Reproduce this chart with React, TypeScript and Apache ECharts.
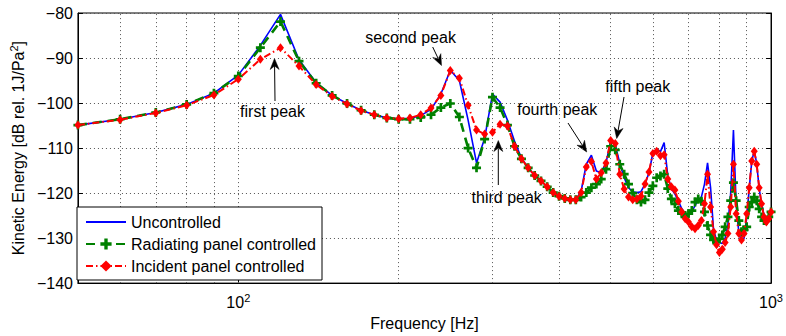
import React, { useEffect, useRef } from 'react';
import * as echarts from 'echarts';

// Frequency [Hz]
const frequencies = [
  50, 60, 70, 80, 90, 100, 110, 120, 130, 140, 150, 160, 170, 180, 190, 200,
  210, 220, 230, 240, 250, 260, 270, 280, 290, 300, 310, 320, 330, 340, 350,
  360, 370, 380, 390, 400, 410, 420, 430, 440, 450, 460, 470, 480, 490, 500,
  510, 520, 530, 540, 550, 560, 570, 580, 590, 600, 610, 620, 630, 640, 650,
  660, 670, 680, 690, 700, 710, 720, 730, 740, 750, 760, 770, 780, 790, 800,
  810, 820, 830, 840, 850, 860, 870, 880, 890, 900, 910, 920, 930, 940, 950,
  960, 970, 980, 990, 1000,
];

const uncontrolled = [
  -104.9, -103.6, -102.1, -100.3, -97.8, -93.8,
  -87.2, -80.3, -90.4, -95.5, -98.3,
  -100.1, -101.6, -102.6, -103.3, -103.5,
  -103.4, -102.8, -101.4, -98.0, -92.7,
  -95.0, -103.8, -113.3, -107.8, -98.0,
  -99.8, -103.8, -108.5, -112.2, -114.4,
  -116.1, -117.3, -118.6, -119.9, -120.7,
  -121.2, -121.5, -121.5, -119.6, -113.6,
  -111.6, -115.1, -115.5, -113.3, -108.5,
  -109.3, -113.3, -116.6, -118.8, -119.7,
  -119.9, -119.7, -118.0, -115.5, -111.1,
  -110.2, -110.8, -108.8, -116.2, -119.0,
  -120.2, -121.8, -123.5, -124.6, -124.8,
  -124.2, -122.8, -121.5, -120.9, -118.0,
  -113.3, -118.8, -128.2, -130.4, -131.0,
  -131.2, -130.0, -127.0, -120.0, -106.0,
  -122.5, -128.8, -130.8, -130.0, -125.5,
  -119.0, -113.0, -110.5, -113.5, -119.0,
  -122.5, -124.8, -126.2, -125.8, -124.2,
];

const radiatingControlled = [
  -104.9, -103.6, -102.1, -100.3, -97.8, -94.0,
  -87.7, -81.9, -90.7, -95.6, -98.3,
  -100.1, -101.6, -102.6, -103.3, -103.6,
  -103.6, -103.2, -102.6, -101.0, -100.1,
  -103.1, -110.0, -114.4, -108.0, -98.7,
  -101.0, -104.9, -109.6, -112.4, -114.4,
  -116.1, -117.3, -118.6, -119.9, -120.7,
  -121.2, -121.5, -121.5, -120.9, -119.9,
  -118.8, -118.0, -116.9, -114.7, -109.6,
  -110.4, -113.6, -115.8, -118.0, -120.0,
  -121.5, -122.0, -121.5, -119.9, -118.4,
  -116.6, -116.2, -115.8, -119.0, -121.3,
  -122.4, -123.9, -124.6, -125.0, -124.6,
  -123.9, -122.0, -121.3, -121.8, -124.2,
  -127.2, -129.3, -130.4, -130.8, -130.2,
  -129.3, -127.5, -125.3, -121.7, -117.7,
  -121.7, -126.1, -128.6, -128.2, -127.5,
  -123.1, -122.0, -120.9, -121.7, -123.5,
  -125.3, -126.1, -126.1, -125.3, -124.2,
];

const incidentControlled = [
  -104.9, -103.7, -102.2, -100.5, -98.2, -94.7,
  -90.3, -87.7, -91.8, -95.9, -98.5,
  -100.2, -101.7, -102.6, -103.3, -103.5,
  -103.3, -102.6, -101.1, -98.3, -92.8,
  -94.5, -100.5, -106.0, -106.9, -106.5,
  -104.7, -105.1, -109.6, -112.4, -114.4,
  -116.1, -117.3, -118.6, -119.9, -120.7,
  -121.2, -121.5, -121.5, -119.9, -114.2,
  -113.0, -116.9, -115.5, -113.3, -108.3,
  -109.0, -115.8, -119.1, -120.9, -121.5,
  -121.3, -120.7, -118.0, -115.3, -111.2,
  -110.7, -111.7, -111.5, -116.9, -118.6,
  -119.3, -121.8, -124.2, -125.7, -126.4,
  -127.5, -127.9, -127.2, -126.1, -122.4,
  -115.8, -123.1, -128.6, -131.5, -133.2,
  -132.5, -131.0, -129.0, -123.1, -113.6,
  -124.6, -129.0, -130.4, -129.0, -124.6,
  -118.8, -112.9, -110.7, -113.6, -118.8,
  -122.4, -125.3, -126.4, -125.7, -124.2,
];

const seriesNames = ['Uncontrolled', 'Radiating panel controlled', 'Incident panel controlled'];
const xGridFrequencies = [60, 70, 80, 90, 100, 200, 300, 400, 500, 600, 700, 800, 900];
const yMin = -140;
const yMax = -80;
const yStep = 10;

const annotationTexts = ['first peak', 'second peak', 'third peak', 'fourth peak', 'fifth peak'];

const FONT = '"Liberation Sans", Arial, Helvetica, sans-serif';

function arrowElements(x1: number, y1: number, x2: number, y2: number) {
  const dx = x2 - x1;
  const dy = y2 - y1;
  const len = Math.sqrt(dx * dx + dy * dy);
  const ux = dx / len;
  const uy = dy / len;
  const px = -uy;
  const py = ux;
  const headLen = 11;
  const halfW = 4.5;
  const notch = 3.5;
  const bx = x2 - ux * headLen;
  const by = y2 - uy * headLen;
  const nx = x2 - ux * (headLen - notch);
  const ny = y2 - uy * (headLen - notch);
  return [
    {
      type: 'line',
      shape: { x1, y1, x2: nx, y2: ny },
      style: { stroke: '#000', lineWidth: 1 },
      silent: true,
    },
    {
      type: 'polygon',
      shape: {
        points: [
          [x2, y2],
          [bx + px * halfW, by + py * halfW],
          [nx, ny],
          [bx - px * halfW, by - py * halfW],
        ],
      },
      style: { fill: '#000', stroke: '#000', lineWidth: 0.5 },
      silent: true,
    },
  ];
}

function textElement(text: string, x: number, y: number) {
  return {
    type: 'text',
    x,
    y,
    silent: true,
    style: {
      text,
      fill: '#000',
      font: `16px ${FONT}`,
      align: 'center',
      verticalAlign: 'middle',
      textAlign: 'center',
      textVerticalAlign: 'middle',
    },
  };
}

export default function App() {
  const ref = useRef<HTMLDivElement>(null);

  useEffect(() => {
    document.body.style.margin = '0';
    const chart = echarts.init(ref.current!, null, { renderer: 'svg' });

    const gridStyle = { color: '#555', width: 1, type: [1, 3] as any };

    const option: any = {
      animation: false,
      backgroundColor: '#fff',
      textStyle: { fontFamily: FONT, color: '#000' },
      grid: {
        left: 71,
        right: 12,
        top: 13,
        bottom: 49,
        show: true,
        borderColor: '#000',
        borderWidth: 1,
        backgroundColor: 'transparent',
      },
      xAxis: {
        type: 'log',
        logBase: 10,
        min: 50,
        max: 1000,
        name: 'Frequency [Hz]',
        nameLocation: 'middle',
        nameGap: 31,
        nameTextStyle: { fontSize: 16, color: '#000', fontFamily: FONT },
        axisLine: { show: true, lineStyle: { color: '#000', width: 1 } },
        axisTick: { show: true, inside: true, length: 5, lineStyle: { color: '#000' } },
        splitLine: { show: false },
        axisLabel: {
          margin: 9,
          color: '#000',
          fontSize: 16,
          fontFamily: FONT,
          showMinLabel: true,
          showMaxLabel: true,
          formatter: (v: number) => {
            const e = Math.round(Math.log10(v) * 1000) / 1000;
            if (Math.abs(e - Math.round(e)) < 1e-6) {
              return `10{sup|${Math.round(e)}}`;
            }
            return '';
          },
          rich: {
            sup: { fontSize: 11, fontFamily: FONT, color: '#000', padding: [0, 0, 9, 0] },
          },
        },
      },
      yAxis: [
        {
          type: 'value',
          min: yMin,
          max: yMax,
          interval: yStep,
          name: 'Kinetic Energy [dB rel. 1J/Pa{sup|2}]',
          nameLocation: 'middle',
          nameGap: 45,
          nameRotate: 90,
          nameTextStyle: {
            fontSize: 16,
            color: '#000',
            fontFamily: FONT,
            rich: { sup: { fontSize: 11, fontFamily: FONT, color: '#000', padding: [0, 0, 9, 0] } },
          },
          axisLine: { show: true, lineStyle: { color: '#000', width: 1 } },
          axisTick: { show: true, inside: true, length: 5, lineStyle: { color: '#000' } },
          splitLine: { show: true, lineStyle: gridStyle },
          axisLabel: {
            margin: 5,
            color: '#000',
            fontSize: 16,
            fontFamily: FONT,
            formatter: (v: number) => (v < 0 ? '\u2212' + Math.abs(v) : String(v)),
          },
        },
        {
          type: 'value',
          position: 'right',
          min: yMin,
          max: yMax,
          interval: yStep,
          axisLine: { show: true, lineStyle: { color: '#000', width: 1 } },
          axisTick: { show: true, inside: true, length: 5, lineStyle: { color: '#000' } },
          splitLine: { show: false },
          axisLabel: { show: false },
        },
      ],
      legend: {
        orient: 'vertical',
        left: 77,
        top: 207,
        data: [
          { name: seriesNames[0], itemStyle: { opacity: 0 } },
          { name: seriesNames[1] },
          { name: seriesNames[2] },
        ],
        itemWidth: 40,
        itemHeight: 14,
        itemGap: 6,
        padding: [7, 6, 6, 8],
        backgroundColor: '#fff',
        borderColor: '#000',
        borderWidth: 1,
        borderRadius: 0,
        textStyle: { fontSize: 16, color: '#000', fontFamily: FONT },
        selectedMode: false,
      },
      series: [
        {
          name: seriesNames[0],
          type: 'line',
          data: frequencies.map((f, i) => [f, uncontrolled[i]]),
          symbol: 'none',
          lineStyle: { color: '#0000ff', width: 1.6 },
          itemStyle: { color: '#0000ff' },
          z: 2,
          markLine: {
            silent: true,
            z: 1,
            symbol: ['none', 'none'],
            label: { show: false },
            lineStyle: gridStyle,
            emphasis: { disabled: true },
            data: xGridFrequencies.map((f) => ({ xAxis: f })),
          },
        },
        {
          name: seriesNames[1],
          type: 'line',
          data: frequencies.map((f, i) => [f, radiatingControlled[i]]),
          symbol: 'path://M3.5,0H6.5V3.5H10V6.5H6.5V10H3.5V6.5H0V3.5H3.5Z',
          symbolSize: 9,
          lineStyle: { color: '#008000', width: 2.6, type: [9, 6] },
          itemStyle: { color: '#008000' },
          z: 3,
        },
        {
          name: seriesNames[2],
          type: 'line',
          data: frequencies.map((f, i) => [f, incidentControlled[i]]),
          symbol: 'diamond',
          symbolSize: [7, 9],
          lineStyle: { color: '#ff0000', width: 2, type: [7, 3, 1.5, 3] },
          itemStyle: { color: '#ff0000' },
          z: 4,
        },
      ],
      graphic: [
        textElement(annotationTexts[0], 272.5, 111),
        ...arrowElements(275, 101, 274.5, 58.5),
        textElement(annotationTexts[1], 410.5, 37.5),
        ...arrowElements(432.7, 47, 441.5, 65.5),
        textElement(annotationTexts[2], 506.7, 197.6),
        ...arrowElements(498.3, 185, 498.3, 140.5),
        textElement(annotationTexts[3], 557.3, 109.2),
        ...arrowElements(568, 123, 586.7, 152),
        textElement(annotationTexts[4], 637.8, 86.6),
        ...arrowElements(624, 97, 616.7, 138.5),
      ],
    };

    chart.setOption(option);
    return () => chart.dispose();
  }, []);

  return <div ref={ref} style={{ width: 786, height: 336 }} />;
}
